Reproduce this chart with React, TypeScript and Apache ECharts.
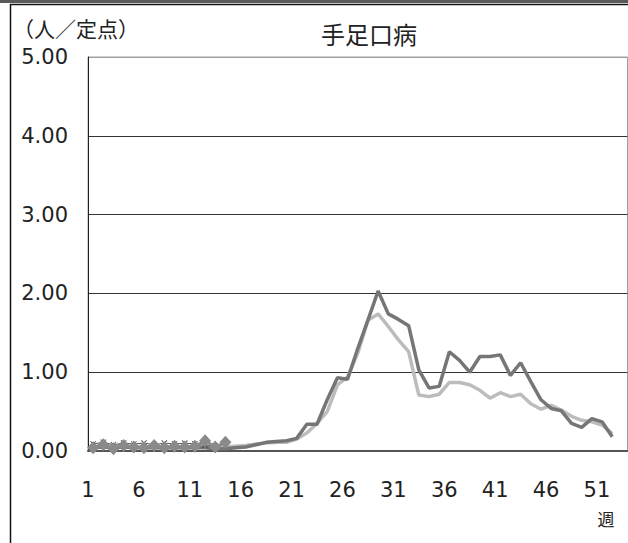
import React, { useEffect, useRef } from "react";
import * as echarts from "echarts";

const weeks = Array.from({ length: 53 }, (_, i) => String(i + 1));
const yTicks = [0, 1, 2, 3, 4, 5];

const darkLine = [
  0.04, 0.05, 0.04, 0.05, 0.04, 0.04, 0.04, 0.04, 0.04, 0.04, 0.04, 0.04, 0.03,
  0.03, 0.04, 0.05, 0.08, 0.11, 0.12, 0.13,
  0.16, 0.34, 0.34, 0.65, 0.93, 0.91, 1.3, 1.66, 2.03, 1.74, 1.67, 1.59, 1.03,
  0.8, 0.82, 1.26, 1.15, 1.0, 1.2, 1.2, 1.22, 0.96, 1.12, 0.88, 0.65, 0.54, 0.51,
  0.35, 0.3, 0.41, 0.37, 0.18,
];
const lightLine = [
  0.06, 0.05, 0.07, 0.06, 0.05, 0.06, 0.05, 0.06, 0.05, 0.05, 0.06, 0.05, 0.05,
  0.05, 0.06, 0.07, 0.09, 0.1, 0.11, 0.11,
  0.15, 0.23, 0.35, 0.5, 0.84, 0.94, 1.24, 1.66, 1.74, 1.58, 1.41, 1.26, 0.71,
  0.69, 0.72, 0.87, 0.87, 0.84, 0.77, 0.67, 0.74, 0.69, 0.72, 0.6, 0.53, 0.58,
  0.52, 0.44, 0.39, 0.37, 0.33, 0.22,
];
const diamondLine = [0.04, 0.08, 0.03, 0.07, 0.05, 0.04, 0.07, 0.04, 0.06, 0.05, 0.06, 0.13, 0.05, 0.11];
const crossLine = [0.09, 0.11, 0.08, 0.1, 0.09, 0.1, 0.08, 0.1, 0.09, 0.1, 0.09, 0.07, 0.06];

const NUM_FONT = "DejaVu Sans";
const CJK_FONT = "Noto Sans CJK JP";
const CROSS =
  "path://M0,1L1,0L5,4L9,0L10,1L6,5L10,9L9,10L5,6L1,10L0,9L4,5Z";

export default function App() {
  const ref = useRef<HTMLDivElement>(null);
  useEffect(() => {
    document.body.style.margin = "0";
    const chart = echarts.init(ref.current!, null, { renderer: "svg" });
    chart.setOption({
      animation: false,
      backgroundColor: "#fff",
      graphic: [
        { type: "rect", shape: { x: 0, y: 0, width: 628, height: 3 }, style: { fill: "#5a5a5a" } },
        { type: "line", shape: { x1: 10, y1: 4.5, x2: 628, y2: 4.5 }, style: { stroke: "#111", lineWidth: 1.5 } },
        { type: "line", shape: { x1: 10.5, y1: 4, x2: 10.5, y2: 543 }, style: { stroke: "#111", lineWidth: 1.5 } },
        {
          type: "text", left: 13, top: 17,
          style: { text: "（人／定点）", font: `21px "${CJK_FONT}"`, fill: "#222" },
        },
        {
          type: "text", x: 369, y: 33,
          style: { text: "手足口病", font: `24px "${CJK_FONT}"`, fill: "#222", align: "center", verticalAlign: "middle" },
        },
        {
          type: "text", x: 606, y: 518,
          style: { text: "週", font: `17px "${CJK_FONT}"`, fill: "#222", align: "center", verticalAlign: "middle" },
        },
      ],
      grid: {
        left: 88, top: 57, width: 539.5, height: 394,
        show: true, borderColor: "#a0a0a0", borderWidth: 1, backgroundColor: "transparent",
      },
      xAxis: {
        type: "category",
        data: weeks,
        boundaryGap: true,
        axisLine: { lineStyle: { color: "#555", width: 2 } },
        axisTick: { inside: true, length: 7, interval: 4, lineStyle: { color: "#444", width: 1 } },
        axisLabel: {
          interval: 4, margin: 28, fontSize: 21, fontFamily: NUM_FONT, color: "#222",
          padding: [0, 10.2, 0, 0],
        },
        splitLine: { show: false },
      },
      yAxis: {
        type: "value",
        min: yTicks[0],
        max: yTicks[yTicks.length - 1],
        interval: 1,
        axisLine: { show: true, lineStyle: { color: "#222", width: 1 } },
        axisTick: { show: false },
        axisLabel: {
          margin: 20, fontSize: 21, fontFamily: NUM_FONT, color: "#222",
          formatter: (v: number) => v.toFixed(2),
        },
        splitLine: {
          show: true,
          lineStyle: { color: ["#333", "#333", "#333", "#333", "#333", "#a0a0a0"], width: 1 },
        },
      },
      series: [
        {
          type: "line", data: lightLine, showSymbol: false, symbol: "none",
          lineStyle: { color: "#bcbcbc", width: 3.5 }, z: 2,
        },
        {
          type: "line", data: darkLine, showSymbol: false, symbol: "none",
          lineStyle: { color: "#767676", width: 3.5 }, z: 3,
        },
        {
          type: "line", data: crossLine, symbol: CROSS, symbolSize: 6, showSymbol: true, showAllSymbol: true,
          itemStyle: { color: "#444" }, lineStyle: { color: "#555", width: 1 }, z: 4,
        },
        {
          type: "line", data: diamondLine, symbol: "diamond", symbolSize: [12, 13], showSymbol: true, showAllSymbol: true,
          itemStyle: { color: "#8a8a8a" }, lineStyle: { color: "#8a8a8a", width: 3 }, z: 5,
        },
      ],
    });
    return () => chart.dispose();
  }, []);
  return <div ref={ref} style={{ width: 628, height: 543 }} />;
}
